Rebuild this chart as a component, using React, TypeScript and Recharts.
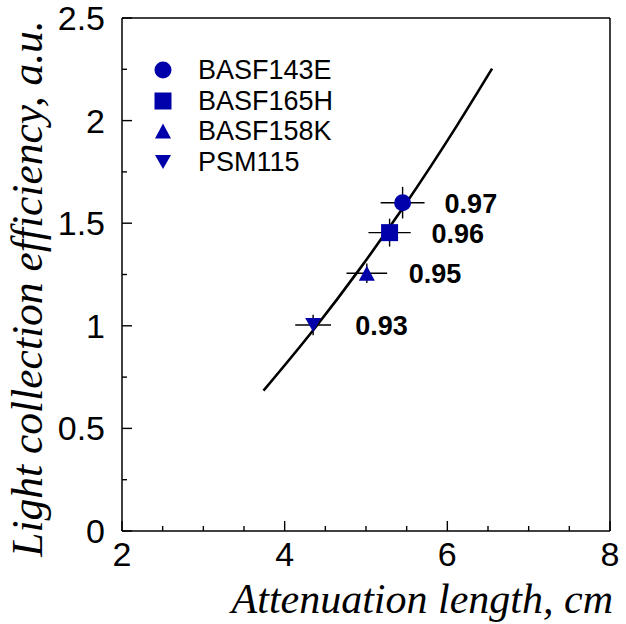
import { ComposedChart, Scatter, Line, XAxis, YAxis, ErrorBar, ReferenceLine, Legend, Label } from 'recharts'

const sampleNames = ['BASF143E', 'BASF165H', 'BASF158K', 'PSM115']
const attLength = [5.45, 5.29, 5.01, 4.35]
const attLengthErr = [0.27, 0.26, 0.25, 0.22]
const lightEff = [1.6, 1.454, 1.256, 1.004]
const lightEffErr = [0.077, 0.068, 0.047, 0.05]
const reflectivity = ['0.97', '0.96', '0.95', '0.93']

// fitted curve
const curveX = [3.74, 4.36, 4.93, 5.26, 5.47, 6.12, 6.55]
const curveY = [0.684, 0.983, 1.281, 1.464, 1.584, 1.977, 2.253]

const xTicks = [2, 2.5, 3, 3.5, 4, 4.5, 5, 5.5, 6, 6.5, 7, 7.5, 8]
const yTicks = [0, 0.25, 0.5, 0.75, 1, 1.25, 1.5, 1.75, 2, 2.25, 2.5]

const BLUE = '#0000aa'
const SANS = '"Liberation Sans", Arial, sans-serif'
const SERIF = '"Liberation Serif", "Times New Roman", serif'
const MARKERS = ['circle', 'square', 'triangle', 'triangleDown']

const curve = curveX.map((x, i) => ({ x, y: curveY[i] }))
const points = sampleNames.map((name, i) => ({
  name,
  x: attLength[i],
  y: lightEff[i],
  ex: attLengthErr[i],
  ey: lightEffErr[i],
  eff: reflectivity[i],
}))

function Marker({ kind, cx, cy }: { kind: string; cx: number; cy: number }) {
  if (kind === 'circle') return <circle cx={cx} cy={cy} r={8.5} fill={BLUE} />
  if (kind === 'square') return <rect x={cx - 8.5} y={cy - 8.5} width={17} height={17} fill={BLUE} />
  if (kind === 'triangle')
    return <polygon points={`${cx},${cy - 7.5} ${cx + 8},${cy + 7.5} ${cx - 8},${cy + 7.5}`} fill={BLUE} />
  return <polygon points={`${cx - 8},${cy - 7} ${cx + 8},${cy - 7} ${cx},${cy + 7}`} fill={BLUE} />
}

const isMajor = (v: number, step: number) => Math.abs(v / step - Math.round(v / step)) < 1e-6

function YTick(props: any) {
  const { x, y, payload } = props
  const major = isMajor(payload.value, 0.5)
  return (
    <g>
      <line x1={x} x2={x + (major ? 10 : 5)} y1={y} y2={y} stroke="#000" strokeWidth={1.4} />
      {major && (
        <text x={x - 17} y={y + 12} textAnchor="end" fontFamily={SANS} fontSize={34} fill="#000">
          {payload.value}
        </text>
      )}
    </g>
  )
}

function XTick(props: any) {
  const { x, y, payload } = props
  const major = isMajor(payload.value, 2)
  return (
    <g>
      <line x1={x} x2={x} y1={y} y2={y - (major ? 10 : 5)} stroke="#000" strokeWidth={1.4} />
      {major && (
        <text x={x} y={y + 35} textAnchor="middle" fontFamily={SANS} fontSize={34} fill="#000">
          {payload.value}
        </text>
      )}
    </g>
  )
}

function LegendBox() {
  return (
    <div style={{ fontFamily: SANS, fontSize: 27, color: '#000' }}>
      {sampleNames.map((name, i) => (
        <div key={name} style={{ display: 'flex', alignItems: 'center', height: 30.6, lineHeight: '30.6px' }}>
          <svg width={40} height={30} style={{ display: 'block' }}>
            <Marker kind={MARKERS[i]} cx={20} cy={15} />
          </svg>
          <span style={{ marginLeft: 15 }}>{name}</span>
        </div>
      ))}
    </div>
  )
}

export default function App() {
  return (
    <div style={{ position: 'absolute', left: 0, top: 0, width: 626, height: 624, background: '#fff' }}>
      <ComposedChart width={626} height={624} margin={{ top: 18, right: 16, left: 0, bottom: 0 }}>
        <XAxis
          dataKey="x"
          type="number"
          domain={[2, 8]}
          ticks={xTicks}
          interval={0}
          tickSize={0}
          tickMargin={0}
          tick={<XTick />}
          height={93}
          axisLine={{ stroke: '#000', strokeWidth: 1.5 }}
          tickLine={false}
          allowDataOverflow
        >
          <Label
            content={(p: any) => {
              const vb = p.viewBox
              return (
                <text x={vb.x + vb.width + 3} y={vb.y + 82} textAnchor="end" fontFamily={SERIF} fontStyle="italic" fontSize={42} fill="#000">
                  Attenuation length, cm
                </text>
              )
            }}
          />
        </XAxis>
        <YAxis
          dataKey="y"
          type="number"
          domain={[0, 2.5]}
          ticks={yTicks}
          interval={0}
          tickSize={0}
          tickMargin={0}
          tick={<YTick />}
          width={122}
          axisLine={{ stroke: '#000', strokeWidth: 1.5 }}
          tickLine={false}
          allowDataOverflow
        >
          <Label
            content={(p: any) => {
              const vb = p.viewBox
              const cy = vb.y + vb.height / 2 + 14
              return (
                <text
                  x={42}
                  y={cy}
                  transform={`rotate(-90, 42, ${cy})`}
                  textAnchor="middle"
                  fontFamily={SERIF}
                  fontStyle="italic"
                  fontSize={43.5}
                  fill="#000"
                >
                  Light collection efficiency, a.u.
                </text>
              )
            }}
          />
        </YAxis>
        <ReferenceLine y={2.5} stroke="#000" strokeWidth={1.5} />
        <ReferenceLine x={8} stroke="#000" strokeWidth={1.5} />
        {points.map((pt, i) => (
          <Scatter
            key={pt.name}
            name={pt.name}
            data={[pt]}
            isAnimationActive={false}
            shape={(p: any) => (
              <g>
                <Marker kind={MARKERS[i]} cx={p.cx} cy={p.cy} />
                <text
                  x={p.cx + 42}
                  y={p.cy + 10}
                  fontFamily={SANS}
                  fontWeight="bold"
                  fontSize={27}
                  fill="#000"
                >
                  {p.payload.eff}
                </text>
              </g>
            )}
          >
            <ErrorBar dataKey="ex" direction="x" width={0} stroke="#000" strokeWidth={1.4} isAnimationActive={false} />
            <ErrorBar dataKey="ey" direction="y" width={0} stroke="#000" strokeWidth={1.4} isAnimationActive={false} />
          </Scatter>
        ))}
        <Line
          data={curve}
          dataKey="y"
          type="monotone"
          stroke="#000"
          strokeWidth={2.6}
          dot={false}
          legendType="none"
          isAnimationActive={false}
        />
        <Legend
          content={<LegendBox />}
          layout="vertical"
          align="center"
          verticalAlign="middle"
          wrapperStyle={{ left: 143, top: 55, width: 260 }}
        />
      </ComposedChart>
    </div>
  )
}
